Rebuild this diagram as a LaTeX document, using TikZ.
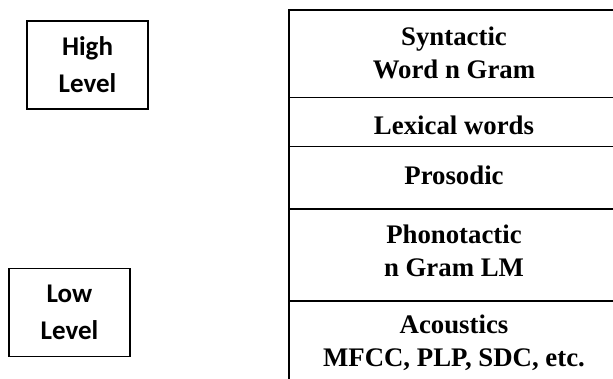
\documentclass[tikz,border=0pt]{standalone}
\usepackage{fontspec}
\setmainfont{Liberation Serif}
\newfontfamily\calibrifont{Carlito}
\begin{document}
\begin{tikzpicture}[x=1pt,y=-1pt,
  layer/.style={font=\fontsize{26.8}{32.5}\selectfont\bfseries, align=center, inner sep=0pt},
  levelbox/.style={draw, line width=1.4pt, minimum width=121pt, minimum height=88pt,
     font=\calibrifont\fontsize{27}{37}\selectfont\bfseries, align=center, inner sep=0pt},
  rule/.style={line width=1.5pt}]
\useasboundingbox (0,0) rectangle (613,379);
% left boxes
\node[levelbox] (high) at (87.5,65) {High\\Level};
\node[levelbox] (low) at (69.5,312.5) {Low\\Level};
% layered stack
\coordinate (tl) at (289,10);
\coordinate (tr) at (613,10);
\coordinate (bl) at (289,379);
\draw[rule] (tr) -- (tl) -- (bl);
\coordinate (l1) at (289,97.5);  \coordinate (r1) at (613,97.5);
\coordinate (l2) at (289,146.5); \coordinate (r2) at (613,146.5);
\coordinate (l3) at (289,209);   \coordinate (r3) at (613,209);
\coordinate (l4) at (289,301);   \coordinate (r4) at (613,301);
\draw[rule] (l1) -- (r1);
\draw[rule] (l2) -- (r2);
\draw[rule] (l3) -- (r3);
\draw[rule] (l4) -- (r4);
\node[layer] (syn) at (454,53) {Syntactic\\Word n Gram};
\node[layer] (lex) at (454,125) {Lexical words};
\node[layer] (pros) at (454,175) {Prosodic};
\node[layer] (phon) at (454,251) {Phonotactic\\n Gram LM};
\node[layer] (acou) at (454,343) {Acoustics\\MFCC, PLP, SDC, etc.};
\end{tikzpicture}
\end{document}
